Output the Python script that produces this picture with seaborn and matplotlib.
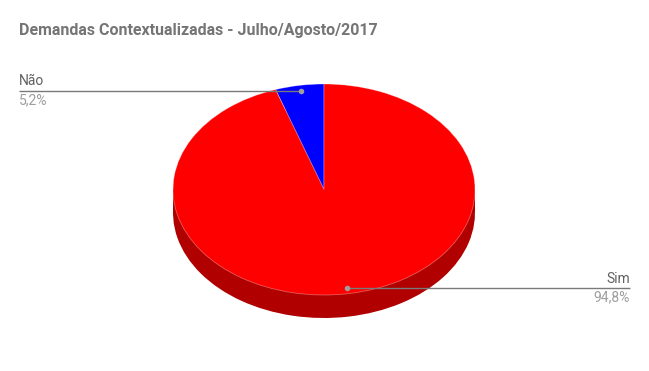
import numpy as np
import matplotlib
matplotlib.use("Agg")
import matplotlib.pyplot as plt
from matplotlib.patches import Rectangle
import seaborn as sns

categories = ["Não", "Sim"]
values = [5.2, 94.8]
pct_labels = ["5,2%", "94,8%"]
title = "Demandas Contextualizadas - Julho/Agosto/2017"
top_colors = ["#0000ff", "#ff0000"]
side_colors = ["#0000b0", "#b00000"]

sns.set_theme(style="white")
plt.rcParams['font.family'] = ['Roboto', 'DejaVu Sans']

W, H = 649, 371
fig = plt.figure(figsize=(W / 100, H / 100), dpi=100)
ax = fig.add_axes([0, 0, 1, 1])

R = 151.0
ry = 105.5
sy = ry / R
cx = 324.0
cy_px = 189.5
cy = (H - cy_px) / sy
depth = 23 / sy

# side (bottom) of the 3D pie
ax.pie(values, colors=side_colors, startangle=90, counterclock=True, radius=R,
       center=(cx, cy - depth), frame=True, wedgeprops=dict(linewidth=0))
ax.add_patch(Rectangle((cx - R, cy - depth), 2 * R, depth, color=side_colors[1], lw=0))
# top face
ax.pie(values, colors=top_colors, startangle=90, counterclock=True, radius=R,
       center=(cx, cy), frame=True,
       wedgeprops=dict(linewidth=0.6, edgecolor=(1, 1, 1, 0.35)))

ax.set_aspect('auto')
ax.set_autoscale_on(False)
ax.set_xlim(0, W)
ax.set_ylim(0, H / sy)
ax.axis('off')

# leader lines and labels
total = sum(values)
cum = np.cumsum(values)
f = 0.94
for cat, v, c, pl in zip(categories, values, cum, pct_labels):
    mid = np.deg2rad(90 + 360 * (c - v / 2) / total)
    dx = cx + R * f * np.cos(mid)
    dy = cy + R * f * np.sin(mid)
    if np.cos(mid) < 0:
        lx, ha = 19, 'left'
        x0, x1 = lx, dx
        dy += 0.8 / sy
    else:
        lx, ha = 630, 'right'
        x0, x1 = dx, lx
        dy -= 0.8 / sy
    ax.plot([x0, x1], [dy, dy], color='#7a7a7a', lw=1, solid_capstyle='butt', zorder=5)
    ax.plot([dx], [dy], 'o', color='#9e9e9e', ms=4, mew=0, zorder=6)
    ax.text(lx, dy + 2.5 / sy, cat, ha=ha, va='bottom', fontsize=10, color='#616161', zorder=7)
    ax.text(lx, dy - 2.5 / sy, pl, ha=ha, va='top', fontsize=10, color='#9e9e9e', zorder=7)

fig.text(19 / W, 1 - 30 / H, title, ha='left', va='center', fontsize=11.5,
         fontweight='bold', color='#757575')

fig.savefig("out.png", dpi=100, facecolor='white')
